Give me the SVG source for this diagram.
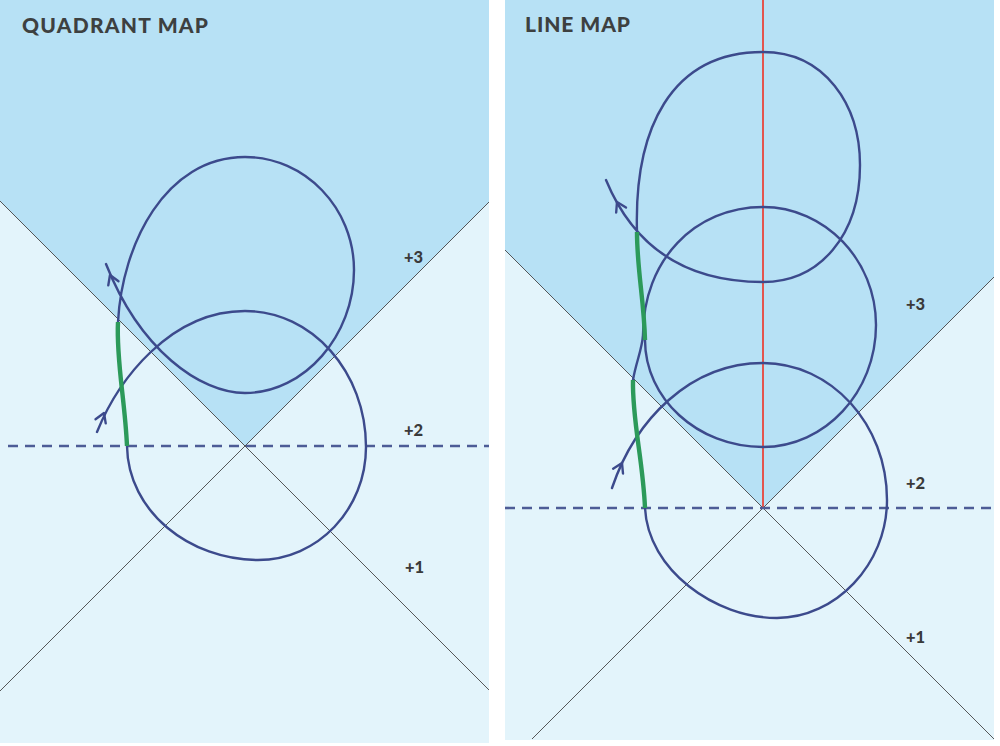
<svg xmlns="http://www.w3.org/2000/svg" width="1000" height="746" viewBox="0 0 1000 746">
<defs>
<style>
.light{fill:#e3f4fb}
.dark{fill:#b7e1f5}
.diag{stroke:#454545;stroke-width:0.9;fill:none}
.dash{stroke:#4d5c96;stroke-width:2.6;stroke-dasharray:10 7;fill:none}
.route{stroke:#3c4a8c;stroke-width:2.4;fill:none;stroke-linecap:round;stroke-linejoin:round}
.green{stroke:#2c9a5a;stroke-width:4.4;fill:none;stroke-linecap:butt}
.red{stroke:#e8463c;stroke-width:1.8;fill:none}
.title{font-family:Lato,"Liberation Sans",sans-serif;font-weight:900;font-size:21px;fill:#3d4040}
.lbl{font-family:Lato,"Liberation Sans",sans-serif;font-weight:900;font-size:16.5px;fill:#3a3a3a}
</style>
<path id="chev" d="M-5.5,9 L0,0 L5.5,9" class="route"/>
</defs>
<rect width="1000" height="746" fill="#ffffff"/>

<g id="panel-quadrant">
  <rect class="light" x="0" y="0" width="489" height="743"/>
  <polygon class="dark" points="0,0 489,0 489,202 245,446 0,201"/>
  <g id="quadrant-axes">
    <line class="diag" x1="0" y1="201" x2="489" y2="690"/>
    <line class="diag" x1="489" y1="202" x2="0" y2="691"/>
    <line class="dash" x1="8" y1="446" x2="489" y2="446"/>
  </g>
  <text class="title" x="22" y="33" textLength="186" lengthAdjust="spacing">QUADRANT MAP</text>
  <g id="q-labels">
    <text class="lbl" x="404" y="263">+3</text>
    <text class="lbl" x="404" y="436">+2</text>
    <text class="lbl" x="405" y="573">+1</text>
  </g>
  <g id="q-connectors">
    <path class="route" d="M97,432 C118,380 170,311 245,311 C312,311 366,372 366,447 C366,509 318,560 258,560 C190,560 128,512 127,446 C125,400 116,360 118,322 C122,245 165,157 245,157 C305,157 354,208 354,270 C354,335 305,393 245,393 C200,393 140,350 106,264"/>
    <path class="green" d="M127,446 C125,400 116,360 118,322"/>
    <use href="#chev" transform="translate(104,413) rotate(22)"/>
    <use href="#chev" transform="translate(110,275) rotate(-22)"/>
  </g>
</g>

<g id="panel-line">
  <rect class="light" x="505" y="0" width="489" height="740"/>
  <polygon class="dark" points="505,0 994,0 994,277 763,508 505,250"/>
  <g id="line-axes">
    <line class="diag" x1="505" y1="250" x2="994" y2="739"/>
    <line class="diag" x1="994" y1="277" x2="532" y2="739"/>
    <line class="red" x1="763" y1="0" x2="763" y2="508"/>
    <line class="dash" x1="505" y1="508" x2="994" y2="508"/>
  </g>
  <text class="title" x="525" y="32" textLength="105" lengthAdjust="spacing">LINE MAP</text>
  <g id="l-labels">
    <text class="lbl" x="906" y="310">+3</text>
    <text class="lbl" x="906" y="489">+2</text>
    <text class="lbl" x="906" y="643">+1</text>
  </g>
  <g id="l-connectors">
    <path class="route" d="M612,488 C635,420 690,363 763,363 C831,363 887,424 887,500 C887,565 835,618 777,618 C715,618 648,570 645,508 C643,460 632,420 633,380 C636,362 642,350 643,335 C643,260 695,207 763,207 C825,207 876,260 876,325 C876,392 825,447 763,447 C697,447 645,398 645,340 C644,300 637,270 637,232 C634,130 670,52 763,52 C825,52 860,105 860,165 C860,235 820,282 763,282 C705,282 640,262 606,180"/>
    <path class="green" d="M645,508 C643,460 632,420 633,380"/>
    <path class="green" d="M645,340 C644,300 637,270 637,232"/>
    <use href="#chev" transform="translate(622,463) rotate(26)"/>
    <use href="#chev" transform="translate(617,202) rotate(-27)"/>
  </g>
</g>
</svg>
